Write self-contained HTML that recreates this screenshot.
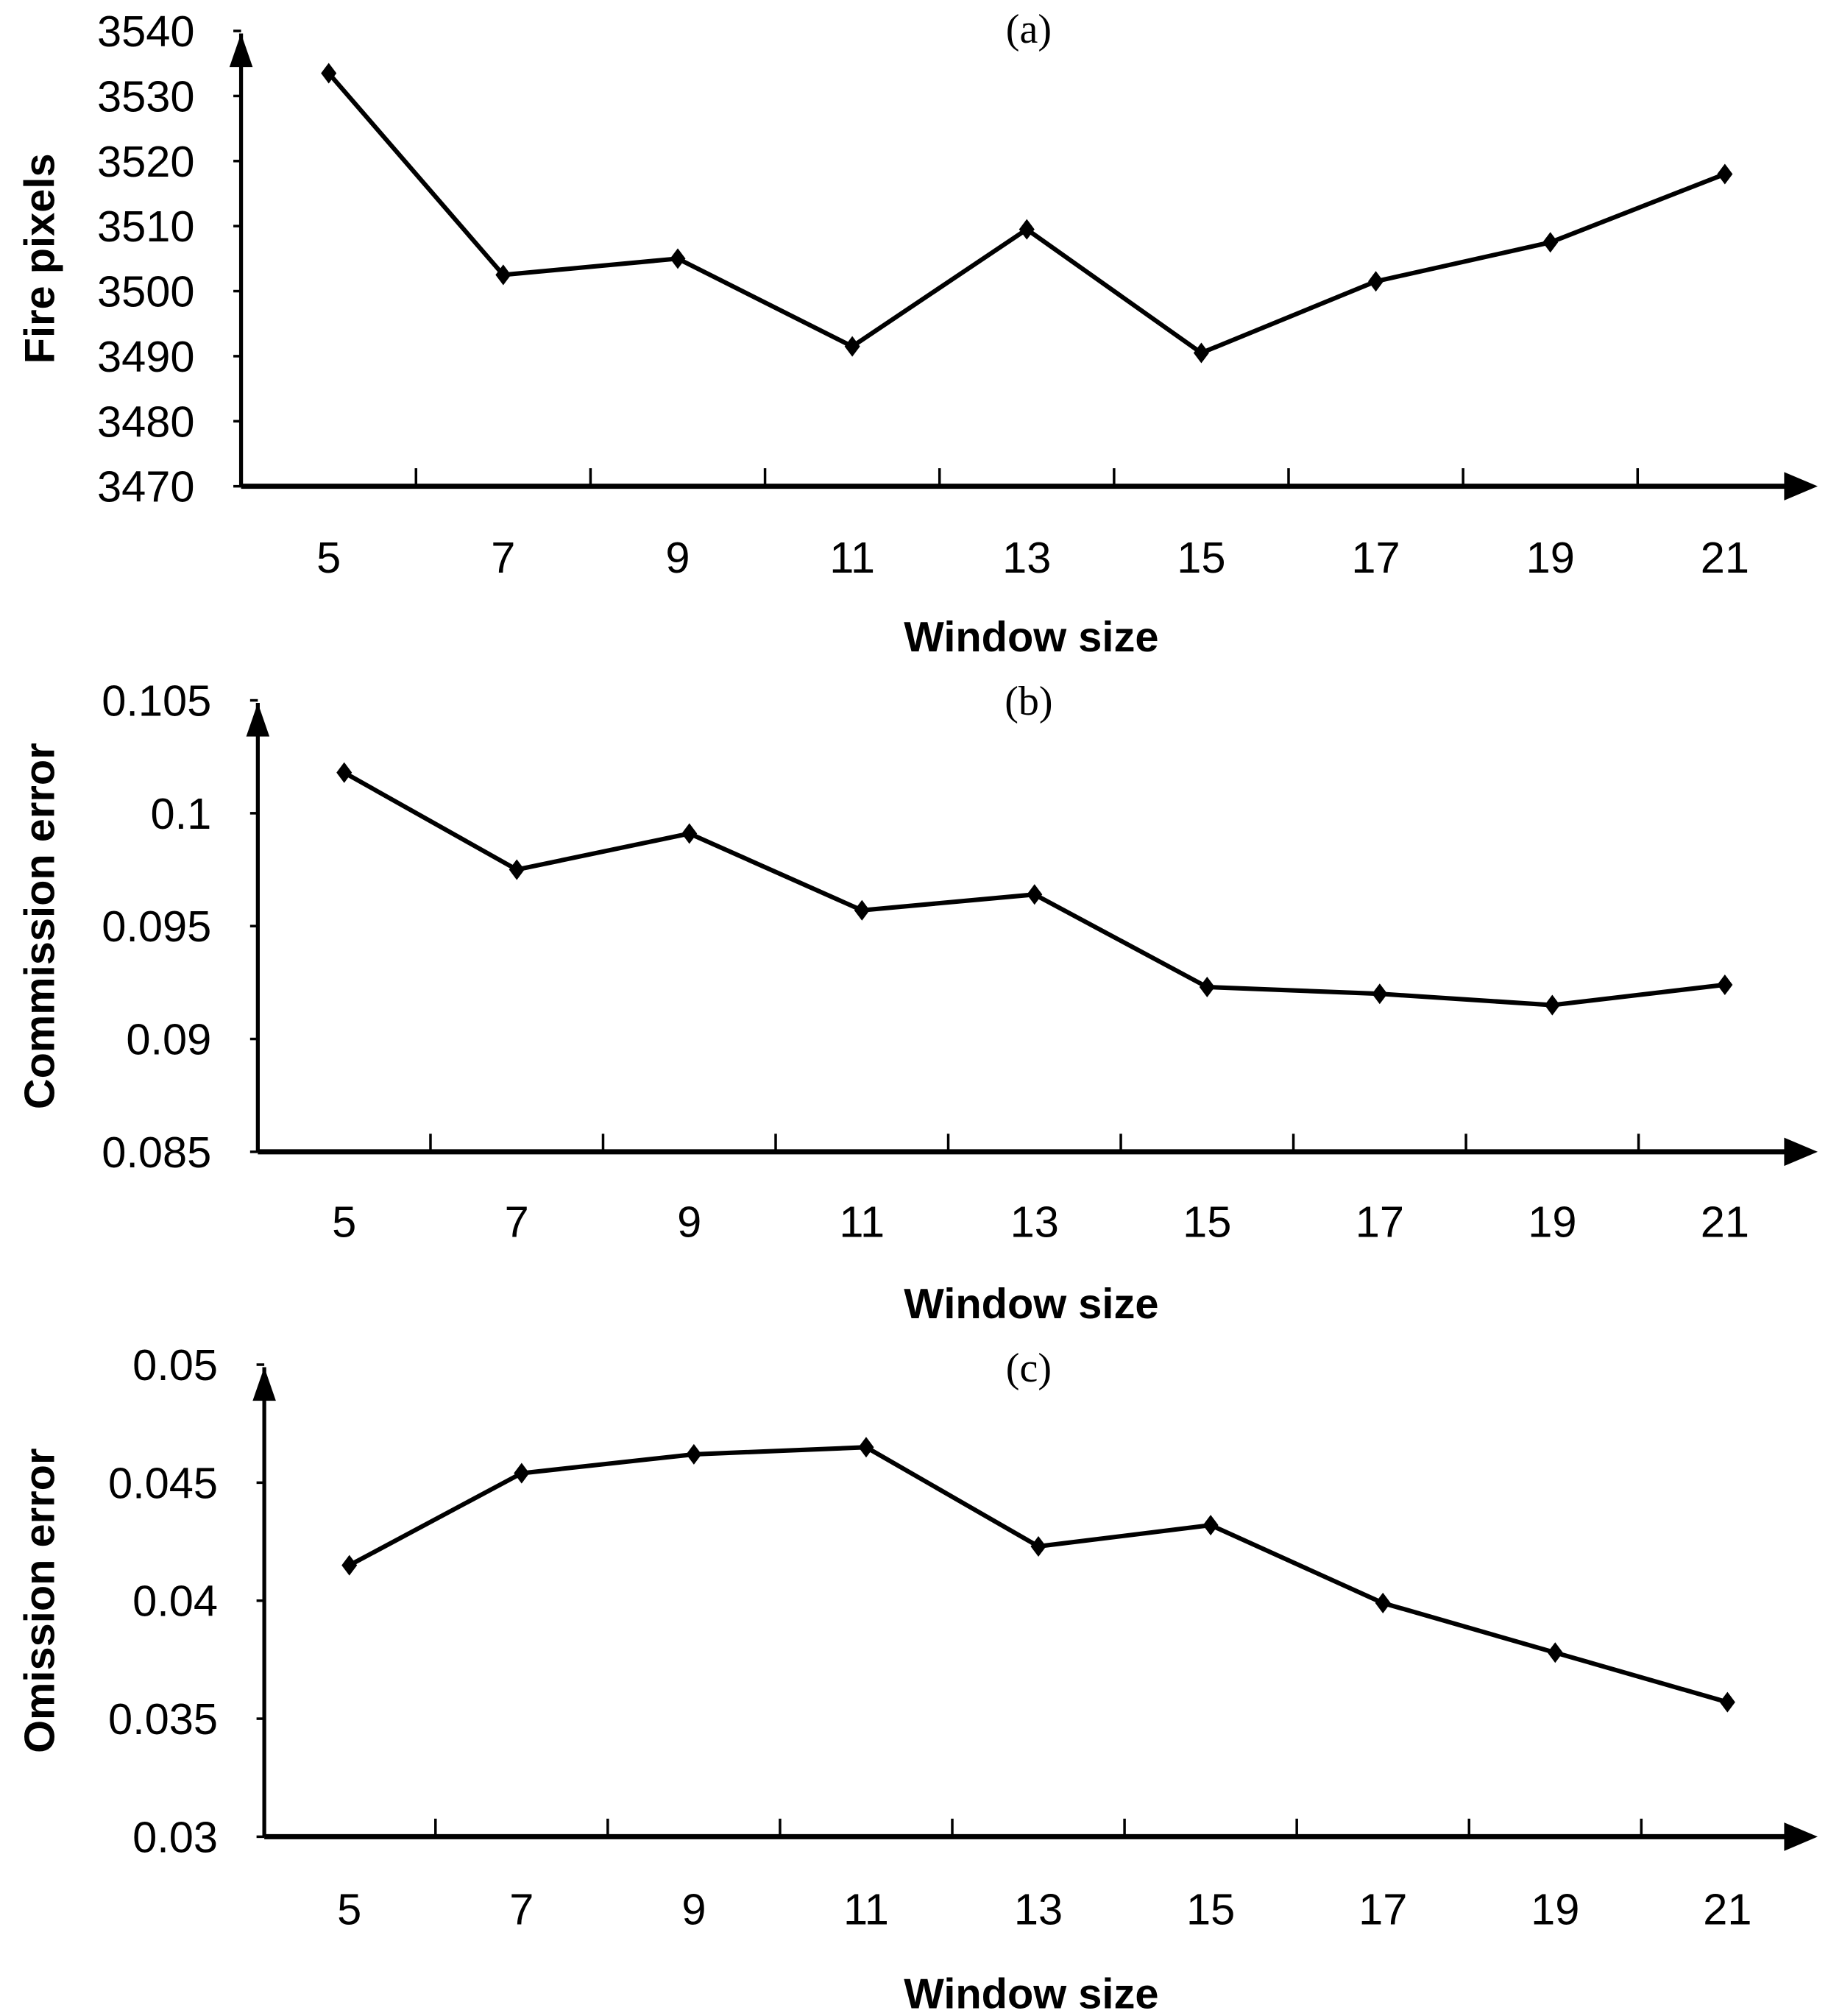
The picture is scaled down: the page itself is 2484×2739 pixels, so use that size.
<!DOCTYPE html>
<html><head><meta charset="utf-8"><style>
html,body{margin:0;padding:0;background:#fff}
svg{display:block}
text{font-family:"Liberation Sans",sans-serif;fill:#000}
.tk{font-size:34px}
.tt{font-size:33px;font-weight:bold}
.pl{font-family:"Liberation Serif",serif;font-size:32px}
</style></head><body>
<svg id="chart" width="2484" height="2739" viewBox="0 0 1418 1563" preserveAspectRatio="none" xmlns="http://www.w3.org/2000/svg"></svg>
<script>
const categories=[5,7,9,11,13,15,17,19,21];
const seriesA=[3533.5,3502.5,3505,3491.5,3509.5,3490.5,3501.5,3507.5,3518];
const seriesB=[0.1018,0.0975,0.0991,0.0957,0.0964,0.0923,0.0920,0.0915,0.0924];
const seriesC=[0.0415,0.0454,0.0462,0.0465,0.0423,0.0432,0.0399,0.0378,0.0357];
const ticksA=["3470","3480","3490","3500","3510","3520","3530","3540"];
const ticksB=["0.085","0.09","0.095","0.1","0.105"];
const ticksC=["0.03","0.035","0.04","0.045","0.05"];
const svg=document.getElementById('chart');
const NS='http://www.w3.org/2000/svg';
function mk(t,a){const e=document.createElementNS(NS,t);for(const k in a)e.setAttribute(k,a[k]);svg.appendChild(e);return e;}
const panels=[
 {id:'a',data:seriesA,ticks:ticksA,ax:187,top:24,bot:377,x0:255,x1:1338,title:'Fire pixels',label:'(a)',ly:22,xl:432,wt:493},
 {id:'b',data:seriesB,ticks:ticksB,ax:200,top:543,bot:893,x0:267,x1:1338,title:'Commission error',label:'(b)',ly:543,xl:947,wt:1010},
 {id:'c',data:seriesC,ticks:ticksC,ax:205,top:1058,bot:1424,x0:271,x1:1340,title:'Omission error',label:'(c)',ly:1060,xl:1480,wt:1545}
];
panels.forEach(p=>{
 const vmin=parseFloat(p.ticks[0]),vmax=parseFloat(p.ticks[p.ticks.length-1]);
 const y=v=>p.bot-(v-vmin)/(vmax-vmin)*(p.bot-p.top);
 const step=(p.x1-p.x0)/(categories.length-1);
 const x=i=>p.x0+i*step;
 let e=mk('line',{x1:p.ax,y1:p.bot,x2:p.ax,y2:p.top+2,stroke:'#000','stroke-width':3});
 
 e=mk('polygon',{points:`${p.ax-9},${p.top+28} ${p.ax+9},${p.top+28} ${p.ax},${p.top+2}`,fill:'#000'});
 
 e=mk('line',{x1:p.ax,y1:p.bot,x2:1390,y2:p.bot,stroke:'#000','stroke-width':4});
 
 e=mk('polygon',{points:`1384,${p.bot-11} 1384,${p.bot+11} 1410,${p.bot}`,fill:'#000'});
 
 for(let i=0;i<categories.length;i++){
  const tx=x(i)+step/2;
  if(i<categories.length-1){e=mk('line',{x1:tx,y1:p.bot,x2:tx,y2:p.bot-14,stroke:'#000','stroke-width':2});
  }
  e=mk('text',{x:x(i),y:p.xl+12,'text-anchor':'middle',class:'tk'});e.textContent=categories[i];
  
 }
 p.ticks.forEach(t=>{const v=parseFloat(t);
  e=mk('line',{x1:p.ax-6,y1:y(v),x2:p.ax,y2:y(v),stroke:'#000','stroke-width':2});
  
  e=mk('text',{x:p.ax-36,y:y(v)+12,'text-anchor':'end',class:'tk'});e.textContent=t;
  
 });
 e=mk('polyline',{points:p.data.map((v,i)=>x(i)+','+y(v)).join(' '),fill:'none',stroke:'#000','stroke-width':3.5});
 
 p.data.forEach((v,i)=>{
  e=mk('polygon',{points:`${x(i)},${y(v)-8} ${x(i)+6},${y(v)} ${x(i)},${y(v)+8} ${x(i)-6},${y(v)}`,fill:'#000'});
  
 });
 const cy=(p.top+p.bot)/2;
 e=mk('text',{x:0,y:0,class:'tt','text-anchor':'middle',transform:`translate(42,${cy}) rotate(-90)`});e.textContent=p.title;
 
 e=mk('text',{x:800,y:p.wt+12,class:'tt','text-anchor':'middle'});e.textContent='Window size';
 
 e=mk('text',{x:798,y:p.ly+11,class:'pl','text-anchor':'middle'});e.textContent=p.label;
 
});
</script>
</body></html>
